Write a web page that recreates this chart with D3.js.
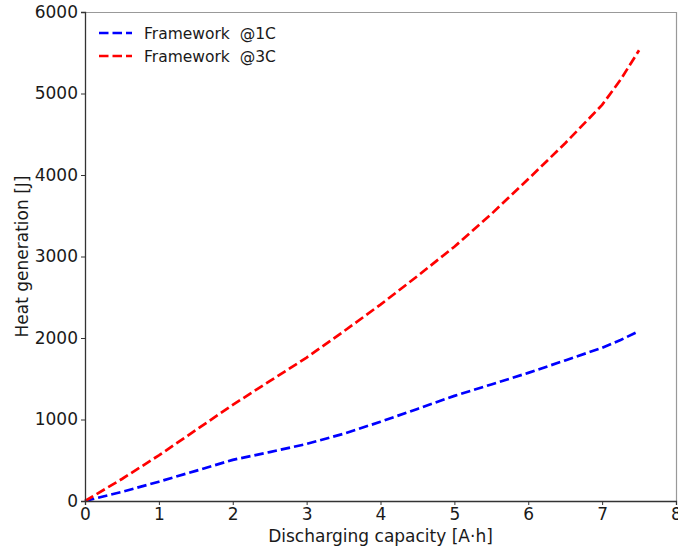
<!DOCTYPE html>
<html><head><meta charset="utf-8">
<script src="https://cdn.jsdelivr.net/npm/d3@7"></script>
<style>body{margin:0;background:#fff}svg{display:block}text{font-family:"DejaVu Sans",sans-serif;fill:#1a1a1a}</style>
</head><body><svg id="c" width="678" height="551"></svg>
<script>
const capacity1C = [0, 0.5, 1, 1.5, 2, 2.5, 3, 3.5, 4, 4.5, 5, 5.5, 6, 6.5, 7, 7.25, 7.5];
const heat1C     = [0, 112, 237, 370, 505, 600, 700, 825, 972, 1130, 1290, 1430, 1572, 1725, 1880, 1975, 2085];
const capacity3C = [0, 0.5, 1, 1.5, 2, 2.5, 3, 3.5, 4, 4.5, 5, 5.5, 6, 6.5, 7, 7.25, 7.5];
const heat3C     = [0, 270, 560, 870, 1180, 1470, 1760, 2080, 2410, 2760, 3120, 3520, 3950, 4390, 4860, 5170, 5530];
const seriesNames = ["Framework  @1C", "Framework  @3C"];
const seriesColors = ["#0000ff", "#ff0000"];
const xTicks = [0, 1, 2, 3, 4, 5, 6, 7, 8];
const yTicks = [0, 1000, 2000, 3000, 4000, 5000, 6000];

const svg = d3.select("#c");
const L = 85, R = 676, T = 12, B = 501;
const x = d3.scaleLinear().domain([0, 8]).range([L, R]);
const y = d3.scaleLinear().domain([0, 6000]).range([B, T]);

svg.append("line").attr("x1", L).attr("x2", R).attr("y1", T + 0.5).attr("y2", T + 0.5).attr("stroke", "#999").attr("stroke-width", 1.2);
svg.append("line").attr("x1", R + 0.5).attr("x2", R + 0.5).attr("y1", T).attr("y2", B).attr("stroke", "#999").attr("stroke-width", 1.2);

const line = d3.line().x(d => x(d[0])).y(d => y(d[1]));
const data = [d3.zip(capacity1C, heat1C), d3.zip(capacity3C, heat3C)];
data.forEach((d, i) => {
  svg.append("path").datum(d).attr("d", line).attr("fill", "none")
    .attr("stroke", seriesColors[i]).attr("stroke-width", 2.7)
    .attr("stroke-dasharray", "9.5,4");
});

const xAxis = svg.append("g").attr("transform", `translate(0,${B})`)
  .call(d3.axisBottom(x).tickValues(xTicks).tickFormat(d3.format("d")).tickSizeOuter(0).tickSize(4).tickPadding(3));
const yAxis = svg.append("g").attr("transform", `translate(${L},0)`)
  .call(d3.axisLeft(y).tickValues(yTicks).tickFormat(d3.format("d")).tickSizeOuter(0).tickSize(4).tickPadding(3));
[xAxis, yAxis].forEach(a => {
  a.select(".domain").attr("stroke", "#333").attr("stroke-width", 1.3);
  a.selectAll(".tick line").attr("stroke", "#333").attr("stroke-width", 1);
  a.selectAll("text").attr("font-size", "17px").attr("font-family", "DejaVu Sans").attr("fill", "#1a1a1a");
});

svg.append("text").attr("x", (L + R) / 2).attr("y", 542).attr("text-anchor", "middle")
  .attr("font-size", "17px").text("Discharging capacity [A·h]");
svg.append("text").attr("transform", `translate(28,${(T + B) / 2}) rotate(-90)`).attr("text-anchor", "middle")
  .attr("font-size", "17px").text("Heat generation [J]");

seriesNames.forEach((n, i) => {
  const yy = 33 + i * 23;
  svg.append("line").attr("x1", 99).attr("x2", 132).attr("y1", yy).attr("y2", yy)
    .attr("stroke", seriesColors[i]).attr("stroke-width", 2.7).attr("stroke-dasharray", "9.5,4");
  svg.append("text").attr("x", 144).attr("y", yy).attr("dy", "0.36em").attr("font-size", "15.5px")
    .style("white-space", "pre").text(n);
});
</script></body></html>
